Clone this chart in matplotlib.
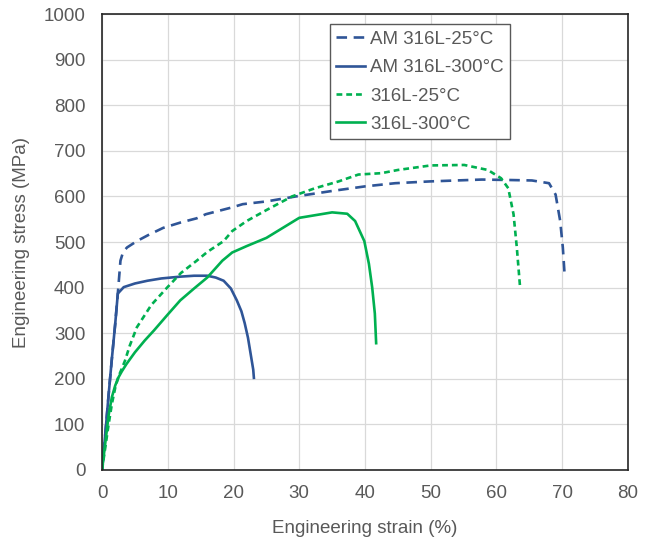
import matplotlib.pyplot as plt

plt.rcParams['font.family'] = ['Liberation Sans', 'DejaVu Sans']

# AM 316L at 25 C
am25_strain = [0, 0.5, 1.0, 1.5, 2.0, 2.4, 2.8, 3.2, 3.8, 5.3, 7, 9.3, 12, 14.4, 15.8, 19.8, 21.4, 25,
               29.5, 35, 40, 44.6, 50, 57.8, 62, 65.4, 68, 69, 69.7, 70.1, 70.4]
am25_stress = [0, 80, 165, 245, 320, 387, 459, 478, 488, 502, 515, 531, 543, 552, 561, 576, 583, 589,
               600, 612, 622, 629, 633, 637, 636, 635, 629, 604, 546, 488, 422]

# AM 316L at 300 C
am300_strain = [0, 0.5, 1.0, 1.5, 2.0, 2.4, 3.3, 5, 6.9, 9, 11.9, 14, 16, 17.3, 18.5, 19.6, 20.5, 21.2,
                21.7, 22.2, 22.6, 23.0, 23.1]
am300_stress = [0, 80, 165, 245, 320, 387, 401, 409, 415, 420, 424, 426, 426, 422, 415, 398, 372, 348,
                322, 290, 255, 220, 202]

# 316L at 25 C
w25_strain = [0, 0.5, 1.0, 1.5, 2.0, 2.5, 3.0, 3.5, 4.2, 5.3, 7.5, 9.9, 12, 14.4, 16, 18.5, 19.8, 22, 25,
              28.9, 32.4, 36, 39, 42.5, 45, 50, 55.1, 58.7, 60.7, 61.8, 62.6, 63.1, 63.6]
w25_stress = [0, 50, 100, 145, 180, 205, 222, 240, 272, 313, 362, 400, 432, 459, 478, 502, 524, 546, 570,
              600, 618, 633, 648, 651, 658, 668, 669, 658, 640, 618, 561, 488, 400]

# 316L at 300 C
w300_strain = [0, 0.5, 1.0, 1.5, 2.0, 2.5, 3.0, 3.7, 5, 6.5, 7.9, 10, 11.9, 14, 16, 18.3, 19.8, 22, 25,
               30, 35, 37.3, 38.5, 39.9, 40.6, 41.1, 41.5, 41.7]
w300_stress = [0, 60, 120, 160, 185, 203, 216, 232, 258, 284, 306, 341, 372, 398, 422, 459, 477, 491,
               509, 553, 565, 562, 546, 502, 452, 400, 343, 278]

blue = '#2F5597'
green = '#00B050'

fig = plt.figure(figsize=(6.5, 5.42), dpi=100)
ax = fig.add_axes([0.157, 0.133, 0.809, 0.841])

ax.plot(am25_strain, am25_stress, color=blue, lw=1.9, dashes=(4, 2.5), label='AM 316L-25°C')
ax.plot(am300_strain, am300_stress, color=blue, lw=1.9, label='AM 316L-300°C')
ax.plot(w25_strain, w25_stress, color=green, lw=1.9, dashes=(2.2, 1.5), label='316L-25°C')
ax.plot(w300_strain, w300_stress, color=green, lw=1.9, label='316L-300°C')

ax.set_xlim(0, 80)
ax.set_ylim(0, 1000)
ax.set_xticks(range(0, 81, 10))
ax.set_yticks(range(0, 1001, 100))
ax.grid(True, color='#D9D9D9', lw=0.9)
ax.set_axisbelow(True)
for s in ax.spines.values():
    s.set_color('#262626')
    s.set_linewidth(1.2)
ax.tick_params(length=0, labelsize=13.5, colors='#595959')
ax.tick_params(axis='y', pad=12)
ax.tick_params(axis='x', pad=11)
ax.set_xlabel('Engineering strain (%)', fontsize=13.5, color='#595959', labelpad=13)
ax.set_ylabel('Engineering stress (MPa)', fontsize=13.5, color='#595959', labelpad=10)

leg = ax.legend(loc='upper left', bbox_to_anchor=(0.433, 0.978), borderaxespad=0, fancybox=False,
                edgecolor='#595959', framealpha=1, fontsize=13.5, handlelength=1.55, handletextpad=0.25,
                labelspacing=0.6, borderpad=0.35)
leg.get_frame().set_linewidth(1.0)
for t in leg.get_texts():
    t.set_color('#595959')

fig.savefig('out.png', dpi=100)
